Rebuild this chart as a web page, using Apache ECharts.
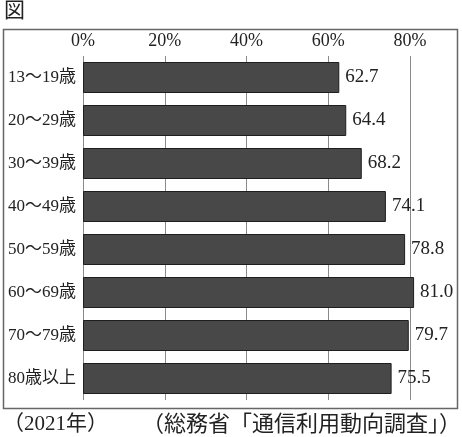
<!DOCTYPE html>
<html>
<head>
<meta charset="utf-8">
<script src="https://cdn.jsdelivr.net/npm/echarts@6/dist/echarts.min.js"></script>
<style>
  html, body { margin: 0; padding: 0; background: #fff; }
  #chart { width: 462px; height: 437px; }
</style>
</head>
<body>
<div id="chart"></div>
<script>
// 年齢層
const categories = ['13～19歳', '20～29歳', '30～39歳', '40～49歳', '50～59歳', '60～69歳', '70～79歳', '80歳以上']
// インターネット利用率 (%)
const values = [62.7, 64.4, 68.2, 74.1, 78.8, 81.0, 79.7, 75.5]
const tickValues = [0, 20, 40, 60, 80]

const fontFamily = "'Liberation Serif', 'Noto Sans CJK JP', serif"

let myChart = echarts.init(document.getElementById('chart'))

const option = {
  animation: false,
  textStyle: { fontFamily: fontFamily },
  grid: {
    left: 83,
    right: 52,
    top: 56,
    bottom: 37
  },
  xAxis: {
    type: 'value',
    position: 'top',
    min: 0,
    max: 80,
    interval: 20,
    axisLine: { show: false },
    axisTick: { show: false },
    axisLabel: {
      color: '#222',
      fontSize: 18,
      margin: 6,
      fontFamily: fontFamily,
      formatter: (v) => (tickValues.includes(v) ? v + '%' : '')
    },
    splitLine: {
      show: true,
      lineStyle: { color: '#8a8a8a', width: 1 }
    }
  },
  yAxis: {
    type: 'category',
    inverse: true,
    data: categories,
    axisLine: { show: false },
    axisTick: { show: false },
    axisLabel: {
      color: '#222',
      fontSize: 17,
      margin: 7,
      fontFamily: fontFamily
    }
  },
  series: [
    {
      type: 'bar',
      data: values,
      barWidth: 31,
      clip: false,
      itemStyle: {
        color: '#484848',
        borderColor: '#1e1e1e',
        borderWidth: 1
      },
      label: {
        show: true,
        position: 'right',
        distance: 6,
        color: '#222',
        fontSize: 19,
        fontFamily: fontFamily,
        formatter: (p) => p.value.toFixed(1)
      },
      z: 3
    }
  ],
  graphic: [
    {
      type: 'text',
      left: 4,
      top: 1,
      style: { text: '図', fontSize: 21, fill: '#222', fontFamily: fontFamily }
    },
    {
      type: 'rect',
      shape: { x: 3.5, y: 29.5, width: 454, height: 379 },
      style: { fill: 'none', stroke: '#666', lineWidth: 1.5 },
      silent: true
    },
    {
      type: 'text',
      left: 3,
      top: 414,
      style: { text: '（2021年）', fontSize: 21, fill: '#222', fontFamily: fontFamily }
    },
    {
      type: 'text',
      right: 1,
      top: 414,
      style: { text: '（総務省「通信利用動向調査」）', fontSize: 22, fill: '#222', fontFamily: fontFamily }
    }
  ]
}

myChart.setOption(option)
</script>
</body>
</html>
